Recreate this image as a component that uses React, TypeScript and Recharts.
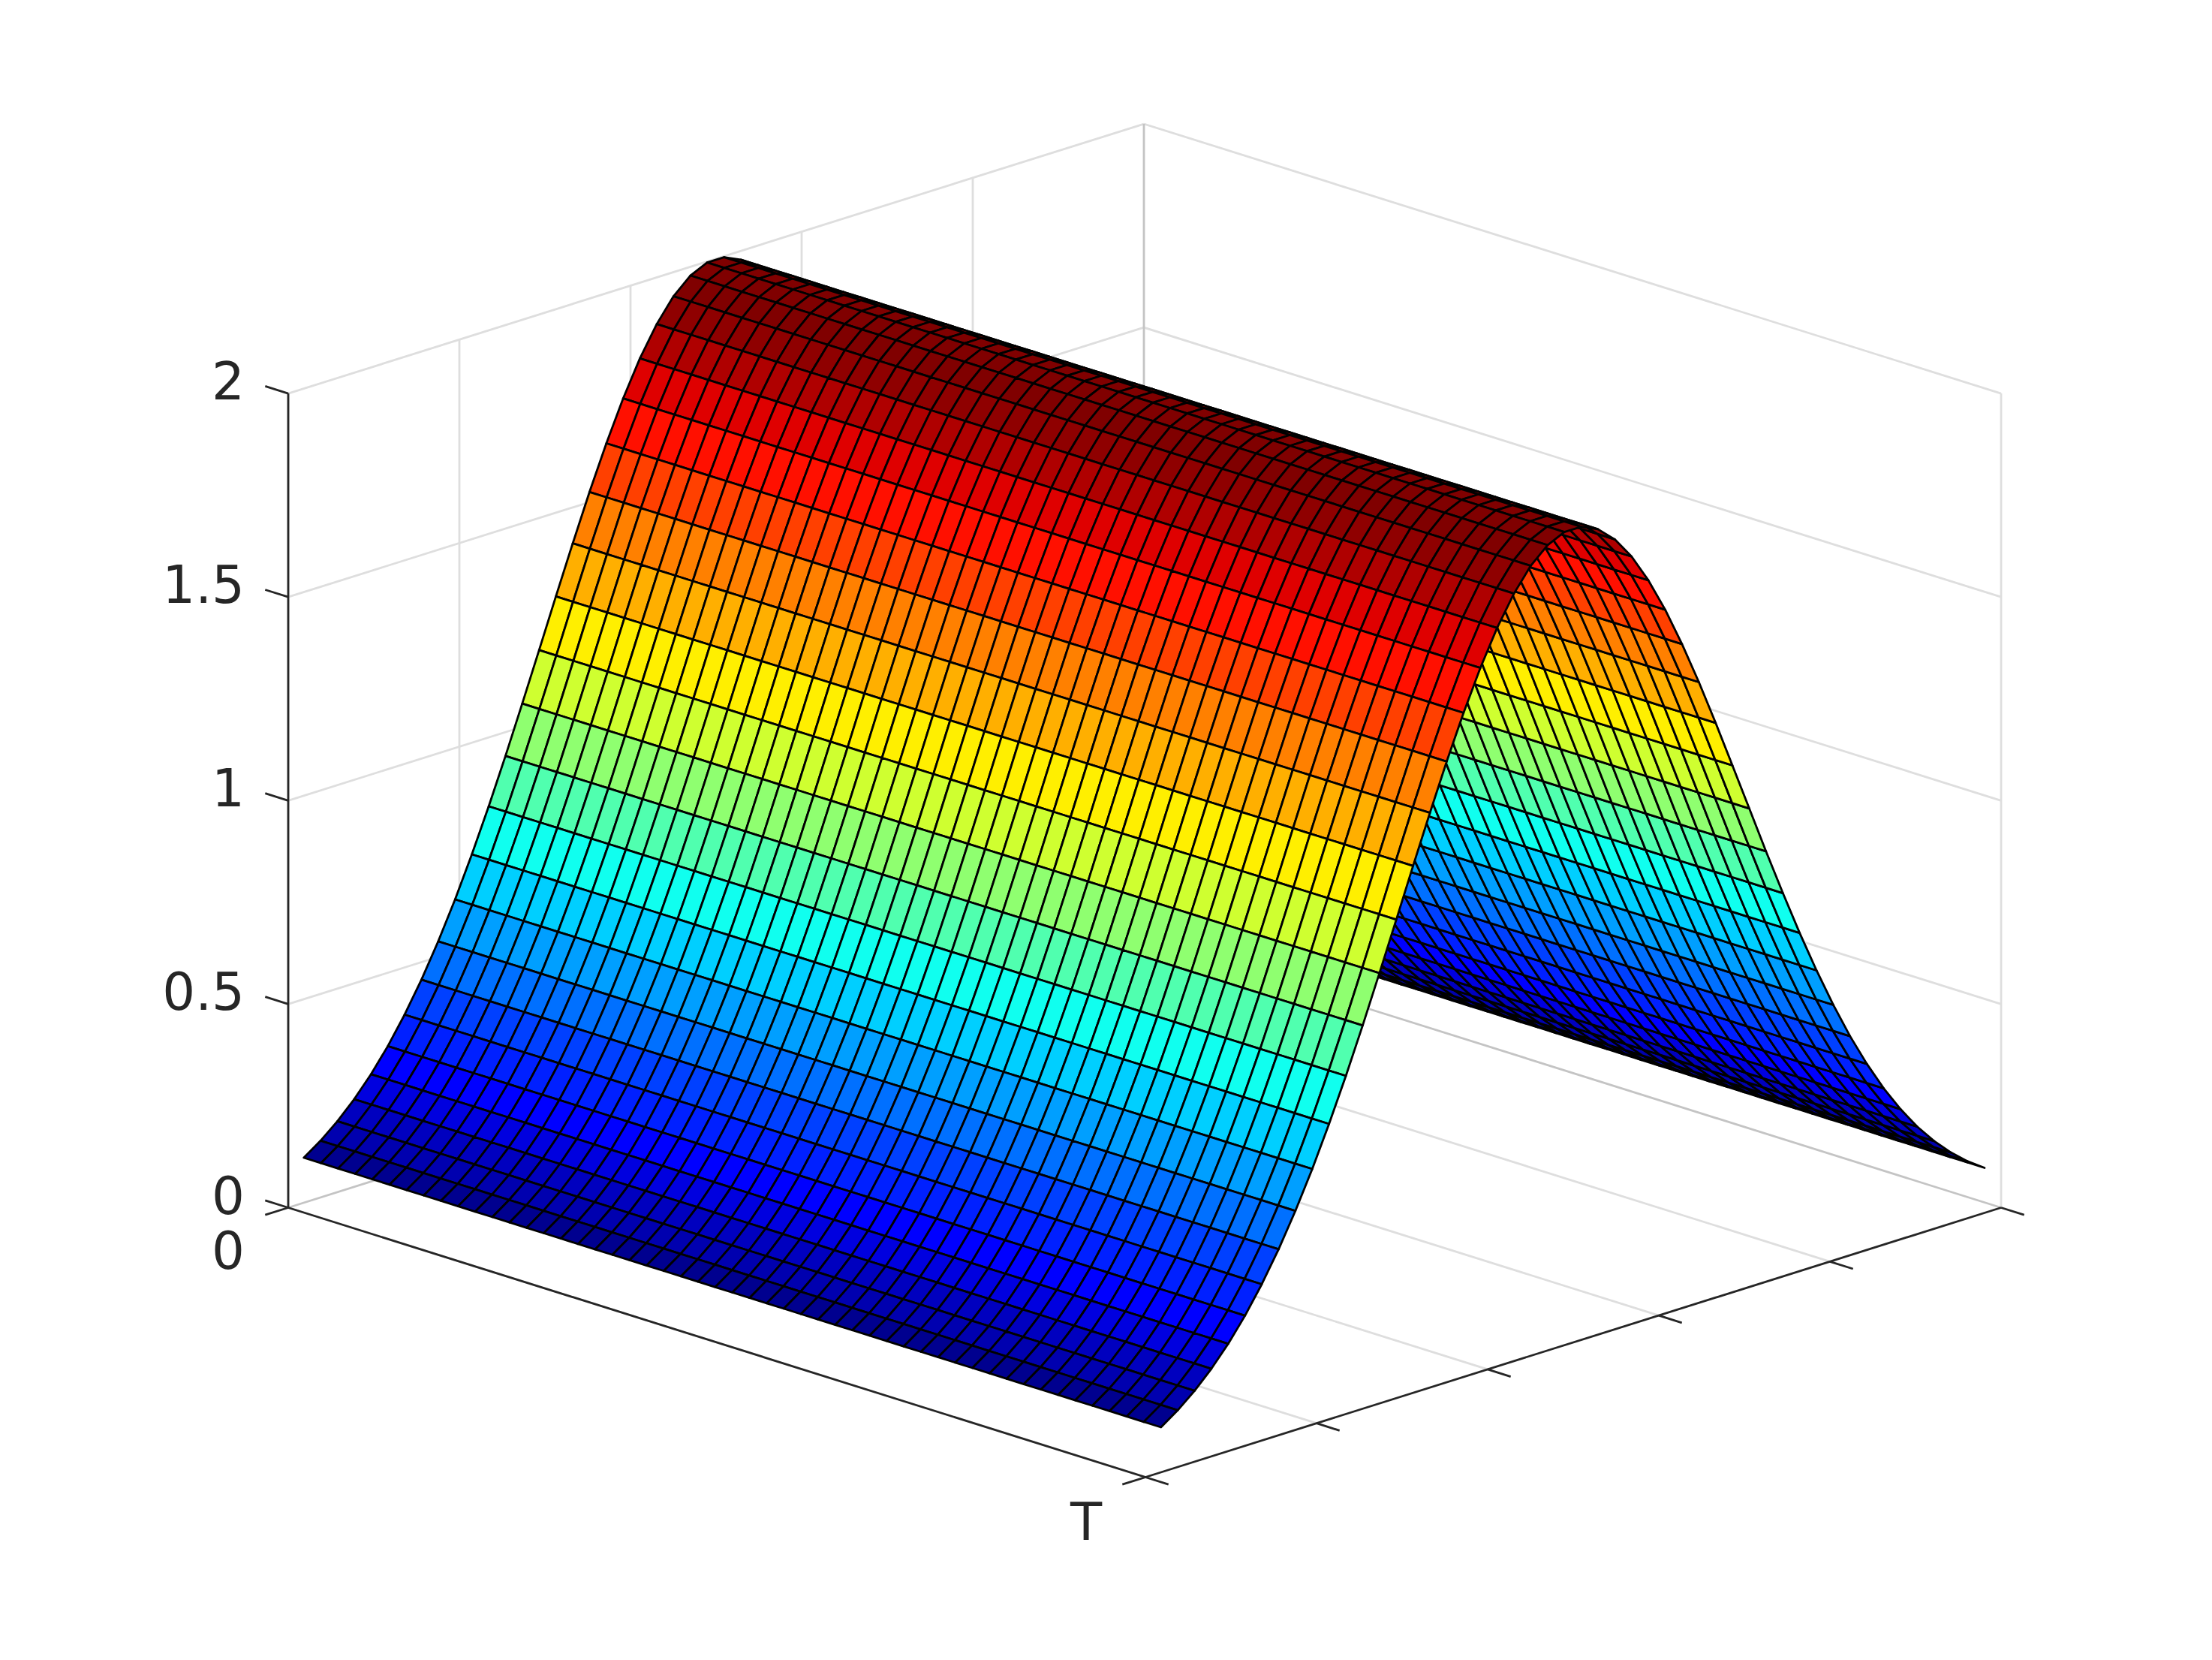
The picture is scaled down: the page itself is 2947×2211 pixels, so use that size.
import React from 'react';
import { ComposedChart, Line, Scatter, XAxis, YAxis, Polygon } from 'recharts';

const W = 2947;
const H = 2211;

// Position along the time axis (0 .. T) of each mesh column
const tValues = [
  0, 0.02, 0.04, 0.06, 0.08, 0.1, 0.12, 0.14, 0.16, 0.18, 0.2, 0.22, 0.24, 0.26, 0.28, 0.3, 0.32,
  0.34, 0.36, 0.38, 0.4, 0.42, 0.44, 0.46, 0.48, 0.5, 0.52, 0.54, 0.56, 0.58, 0.6, 0.62, 0.64,
  0.66, 0.68, 0.7, 0.72, 0.74, 0.76, 0.78, 0.8, 0.82, 0.84, 0.86, 0.88, 0.9, 0.92, 0.94, 0.96,
  0.98, 1,
];
// Position along the second floor axis of each mesh row
const uValues = [
  0.0182, 0.0378, 0.0575, 0.0771, 0.0968, 0.1164, 0.136, 0.1557, 0.1753, 0.195, 0.2146, 0.2343,
  0.2539, 0.2735, 0.2932, 0.3128, 0.3325, 0.3521, 0.3718, 0.3914, 0.411, 0.4307, 0.4503, 0.47,
  0.4896, 0.5093, 0.5289, 0.5485, 0.5682, 0.5878, 0.6075, 0.6271, 0.6468, 0.6664, 0.686, 0.7057,
  0.7253, 0.745, 0.7646, 0.7843, 0.8039, 0.8235, 0.8432, 0.8628, 0.8825, 0.9021, 0.9218, 0.9414,
  0.961, 0.9807,
];
// Height of the surface on each mesh row
const zValues = [
  0.1106, 0.1395, 0.1742, 0.2153, 0.2636, 0.3197, 0.384, 0.4568, 0.5381, 0.628, 0.7257, 0.8307,
  0.9415, 1.0571, 1.1755, 1.2944, 1.4117, 1.5249, 1.6314, 1.7287, 1.814, 1.8854, 1.9407, 1.9785,
  1.9976, 1.9976, 1.9785, 1.9407, 1.8854, 1.814, 1.7287, 1.6314, 1.5249, 1.4117, 1.2944, 1.1755,
  1.0571, 0.9415, 0.8307, 0.7257, 0.628, 0.5381, 0.4568, 0.384, 0.3197, 0.2636, 0.2153, 0.1742,
  0.1395, 0.1106,
];
const zTicks = [0, 0.5, 1, 1.5, 2];
const zTickLabels = ['0', '0.5', '1', '1.5', '2'];
const uTicks = [0, 0.2, 0.4, 0.6, 0.8, 1];
const tTicks = [0, 1];

// Orthographic view of the axes box
const ORIGIN = { x: 384, y: 1608.5 };
const T_VEC = { x: 1142, y: 359 };
const U_VEC = { x: 1140, y: -359 };
const Z_UNIT = 542.2;
const TICK_T = { x: 30.7, y: 9.7 };
const TICK_U = { x: 30.7, y: -9.7 };

const project = (t: number, u: number, z: number) => ({
  x: ORIGIN.x + T_VEC.x * t + U_VEC.x * u,
  y: ORIGIN.y + T_VEC.y * t + U_VEC.y * u - Z_UNIT * z,
});

const seg = (a: { x: number; y: number }, b: { x: number; y: number }) => [a, b];
const move = (p: { x: number; y: number }, d: { x: number; y: number }, k: number) => ({
  x: p.x + d.x * k,
  y: p.y + d.y * k,
});

const jetColor = (z: number) => {
  const zMin = 0.1106;
  const zMax = 1.9976;
  const v = Math.max(0, Math.min(0.9999, (z - zMin) / (zMax - zMin)));
  const w = (Math.floor(v * 64) + 1) / 64;
  const ch = (c: number) =>
    Math.round(255 * Math.max(0, Math.min(1, 1.5 - Math.abs(4 * w - c))));
  return `rgb(${ch(3)},${ch(2)},${ch(1)})`;
};

// Grid lines on the two back walls and on the floor
const gridLines: { x: number; y: number }[][] = [];
zTicks.slice(1).forEach((z) => {
  gridLines.push(seg(project(0, 0, z), project(0, 1, z)));
  gridLines.push(seg(project(0, 1, z), project(1, 1, z)));
});
uTicks.slice(0, -1).forEach((u) => {
  gridLines.push(seg(project(0, u, 0), project(1, u, 0)));
  gridLines.push(seg(project(0, u, 0), project(0, u, 2)));
});
gridLines.push(seg(project(1, 1, 0), project(1, 1, 2)));

// The back floor edges and back vertical carry both a grid line and the box line
const backEdges = [
  seg(project(0, 0, 0), project(0, 1, 0)),
  seg(project(0, 1, 0), project(1, 1, 0)),
  seg(project(0, 1, 0), project(0, 1, 2)),
];

// Black axis lines and tick marks
const axisLines: { x: number; y: number }[][] = [
  seg(project(0, 0, 0), project(0, 0, 2)),
  seg(project(0, 0, 0), project(1, 0, 0)),
  seg(project(1, 0, 0), project(1, 1, 0)),
];
zTicks.forEach((z) => {
  axisLines.push(seg(project(0, 0, z), move(project(0, 0, z), TICK_T, -1)));
});
uTicks.forEach((u) => {
  axisLines.push(seg(project(1, u, 0), move(project(1, u, 0), TICK_T, 1)));
});
tTicks.forEach((t) => {
  axisLines.push(seg(project(t, 0, 0), move(project(t, 0, 0), TICK_U, -1)));
});

type Quad = { x: number; y: number; pts: { x: number; y: number }[]; fill: string };
const quads: Quad[] = [];
for (let i = uValues.length - 2; i >= 0; i--) {
  for (let j = 0; j < tValues.length - 1; j++) {
    const pts = [
      project(tValues[j], uValues[i], zValues[i]),
      project(tValues[j + 1], uValues[i], zValues[i]),
      project(tValues[j + 1], uValues[i + 1], zValues[i + 1]),
      project(tValues[j], uValues[i + 1], zValues[i + 1]),
    ];
    quads.push({ x: pts[0].x, y: pts[0].y, pts, fill: jetColor(zValues[i + 1]) });
  }
}

const QuadShape = (props: any) => {
  const { cx, cy, payload } = props;
  const dx = cx - payload.x;
  const dy = cy - payload.y;
  return (
    <Polygon
      points={payload.pts.map((p: { x: number; y: number }) => ({ x: p.x + dx, y: p.y + dy }))}
      fill={payload.fill}
      stroke="#000"
      strokeWidth={2.8}
      strokeLinejoin="round"
    />
  );
};

const labels = [
  ...zTicks.map((z, k) => ({
    x: 326,
    y: project(0, 0, z).y - 16,
    text: zTickLabels[k],
    anchor: 'end',
  })),
  { x: 326, y: 1666, text: '0', anchor: 'end' },
  { x: 1447, y: 2027, text: 'T', anchor: 'middle' },
];

const LabelShape = (props: any) => {
  const { cx, cy, payload } = props;
  return (
    <text
      x={cx}
      y={cy}
      textAnchor={payload.anchor}
      dominantBaseline="central"
      fontFamily="DejaVu Sans"
      fontSize={69}
      fill="#262626"
    >
      {payload.text}
    </text>
  );
};

export default function App() {
  return (
    <div style={{ position: 'absolute', left: 0, top: 0, width: W, height: H, background: '#fff' }}>
      <ComposedChart width={W} height={H} margin={{ top: 0, right: 0, bottom: 0, left: 0 }}>
        <XAxis type="number" dataKey="x" domain={[0, W]} hide allowDataOverflow />
        <YAxis type="number" dataKey="y" domain={[0, H]} reversed hide allowDataOverflow />
        {gridLines.map((d, k) => (
          <Line
            key={`g${k}`}
            data={d}
            dataKey="y"
            stroke="#dedede"
            strokeWidth={2.8}
            dot={false}
            activeDot={false}
            isAnimationActive={false}
            legendType="none"
          />
        ))}
        {backEdges.map((d, k) => (
          <Line
            key={`b${k}`}
            data={d}
            dataKey="y"
            stroke="#c4c4c4"
            strokeWidth={2.8}
            dot={false}
            activeDot={false}
            isAnimationActive={false}
            legendType="none"
          />
        ))}
        <Scatter data={quads} shape={QuadShape} isAnimationActive={false} legendType="none" />
        {axisLines.map((d, k) => (
          <Line
            key={`a${k}`}
            data={d}
            dataKey="y"
            stroke="#262626"
            strokeWidth={2.8}
            dot={false}
            activeDot={false}
            isAnimationActive={false}
            legendType="none"
          />
        ))}
        <Scatter data={labels} shape={LabelShape} isAnimationActive={false} legendType="none" />
      </ComposedChart>
    </div>
  );
}
